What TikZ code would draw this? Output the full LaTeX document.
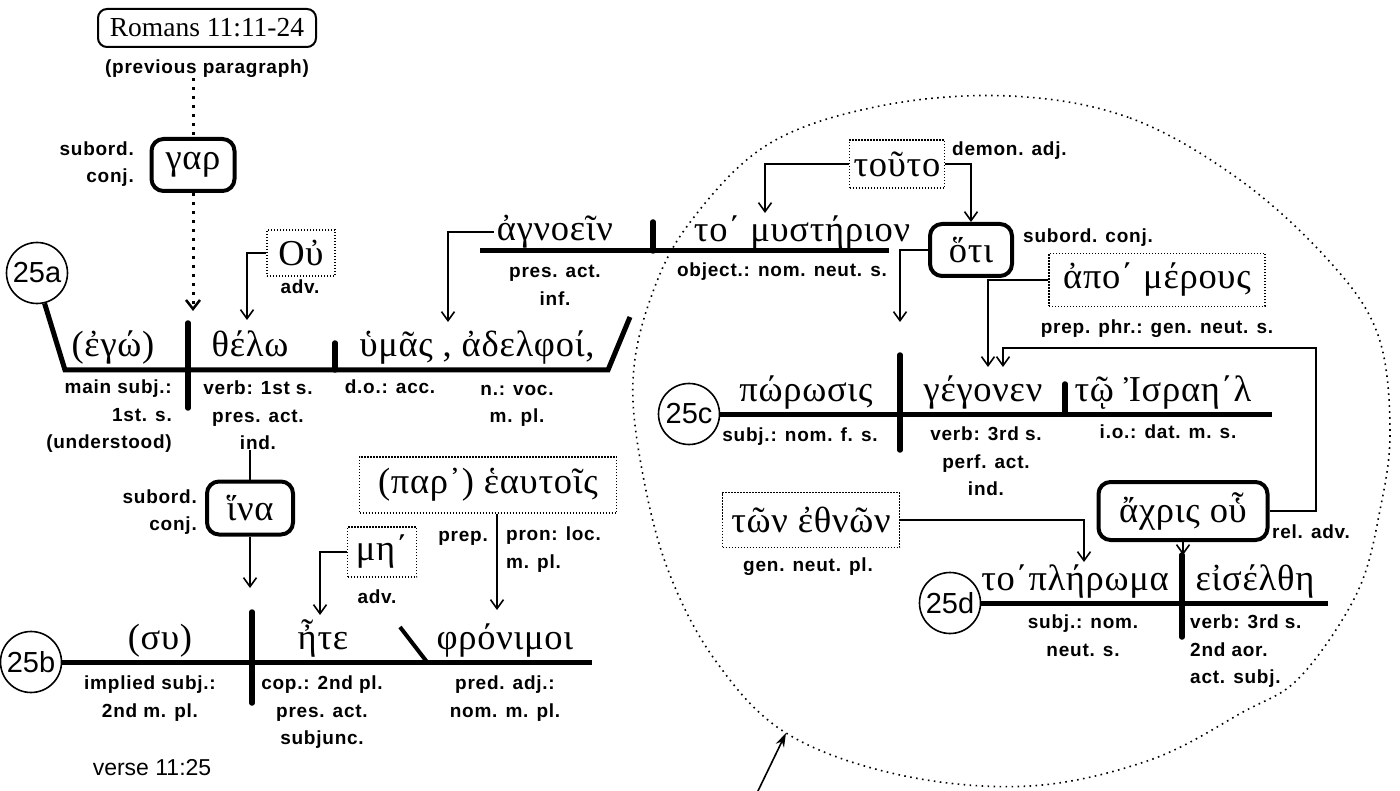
\documentclass[tikz,border=0pt]{standalone}
\usepackage{fontspec}
\setmainfont{Liberation Serif}
\newfontfamily\labf[LetterSpace=4]{Liberation Sans}
\newfontfamily\grkf[LetterSpace=2]{Liberation Serif}
\newfontfamily\numf{Liberation Sans}
\usetikzlibrary{arrows.meta}
\begin{document}
\begin{tikzpicture}[x=1pt,y=-1pt,
  gk/.style={font=\grkf\fontsize{36.5}{40}\selectfont, inner sep=0pt},
  lb/.style={font=\labf\bfseries\fontsize{19}{27.5}\selectfont, inner sep=0pt, align=center, execute at begin node={\rule{0pt}{14pt}}},
  conjbox/.style={draw, line width=4pt, rounded corners=12pt, inner sep=0pt, font=\grkf\fontsize{36.5}{40}\selectfont},
  modbox/.style={draw, line width=1.4pt, dash pattern=on 1.4pt off 1.6pt, inner sep=0pt, font=\grkf\fontsize{36.5}{40}\selectfont},
  num/.style={draw, circle, line width=1.6pt, inner sep=0pt, minimum size=61pt, font=\numf\fontsize{29}{30}\selectfont},
  baseln/.style={line width=5pt},
  divider/.style={line width=5.5pt, line cap=round},
  conn/.style={line width=1.6pt, -{Straight Barb[length=9pt,width=13pt,line width=1.6pt]}},
  plain/.style={line width=1.6pt},
  bigdots/.style={line width=3pt, dash pattern=on 3pt off 6pt},
]
\useasboundingbox (0,0) rectangle (1400,791);
% dotted circle
\draw[line width=1.6pt, dash pattern=on 1.6pt off 4.4pt] plot[smooth cycle, tension=0.6] coordinates {
  (1010,96) (1130,118) (1240,180) (1330,262) (1378,335) (1390,430) (1380,510) (1357,593)
  (1300,677) (1243,712) (1150,760) (1030,786) (900,775) (786,733) (715,660) (668,570)
  (642,470) (633,380) (650,300) (688,225) (767,145) (880,106)};

% top
\node[draw, line width=2pt, rounded corners=9pt, minimum width=218pt, minimum height=38pt, inner sep=0pt, font=\fontsize{27.5}{29}\selectfont] (rom) at (207,28) {Romans 11:11-24};
\node[lb, anchor=base] (prev) at (207,74) {(previous paragraph)};
\node[conjbox, minimum width=83pt, minimum height=52pt] (gar) at (193,165) {γαρ};
\node[lb, align=right, anchor=east] (garlab) at (134,164) {subord.\\conj.};
\coordinate (a1tip) at (190,311);
\draw[bigdots] (gar.north |- prev.south) -- (gar.north);
\draw[bigdots, -{Straight Barb[length=9pt,width=14pt,line width=2.5pt]}] (gar.south) -- (gar.south |- a1tip);

% line 25a
\node[num] (n25a) at (37,273) {25a};
\draw[baseln, line join=miter] (n25a.-76) -- (65,370) -- (608,370) -- (630,317);
\draw[divider] (188,323) -- (188,408);
\draw[divider] (335,343) -- (335,370);
\node[gk, anchor=base] (ego) at (113,357) {(ἐγώ)};
\node[gk, anchor=base] (thelo) at (250,357) {θέλω};
\node[gk, anchor=base] (hymas) at (477,357) {ὑμᾶς , ἀδελφοί,};
\node[lb, align=right, anchor=north east] (subjA) at (172,380) {main subj.:\\1st. s.\\(understood)};
\node[lb, anchor=north] (vlab) at (258,381) {verb: 1st s.\\pres. act.\\ind.};
\node[lb, anchor=north] (doA) at (390,379) {d.o.: acc.};
\node[lb, anchor=north] (voc) at (517,385) {n.: voc.\\m. pl.};

% Ou
\node[modbox, minimum width=68pt, minimum height=46pt] (ou) at (301,253) {Οὐ};
\node[lb, anchor=north] (ouadv) at (300,279) {adv.};
\coordinate (ouT) at (247,320);
\draw[conn] (ou.west) -| (ouT);

% infinitive
\draw[baseln] (480,251) -- (889,251);
\draw[divider] (653,222) -- (653,251);
\node[gk, anchor=base] (agn) at (555,241) {ἀγνοεῖν};
\node[gk, anchor=base] (myst) at (802,242) {το΄ μυστήριον};
\node[lb, anchor=north] (inf) at (555,265) {pres. act.\\inf.};
\node[lb, anchor=north] (objl) at (782,262) {object.: nom. neut. s.};
\coordinate (agT) at (448,322);
\draw[conn] ([xshift=-3pt]agn.west) -| (agT);

% touto / hoti
\node[modbox, minimum width=95pt, minimum height=48pt] (touto) at (897,164) {τοῦτο};
\node[lb, anchor=west] (dem) at (952,150) {demon. adj.};
\node[conjbox, minimum width=82pt, minimum height=52pt] (hoti) at (971,250) {ὅτι};
\node[lb, anchor=west] (subc) at (1023,237) {subord. conj.};
\coordinate (tmT) at (765,213);
\draw[conn] (touto.west) -| (tmT);
\draw[conn] (touto.east) -| (hoti.north);
\coordinate (hT) at (900,322);
\draw[conn] (hoti.west) -| (hT);

% apo merous
\node[modbox, minimum width=216pt, minimum height=53pt] (apo) at (1157,280) {ἀπο΄ μέρους};
\node[lb, anchor=north] (ppl) at (1157,319) {prep. phr.: gen. neut. s.};
\coordinate (amT) at (988,367);
\draw[conn] (apo.west) -| (amT);

% line 25c
\node[num] (n25c) at (689,414) {25c};
\draw[baseln] (n25c.east) -- (1272,414);
\draw[divider] (900,355) -- (900,450);
\draw[divider] (1065,384) -- (1065,414);
\node[gk, anchor=base] (poro) at (806,401) {πώρωσις};
\node[gk, anchor=base] (gego) at (983,401) {γέγονεν};
\node[gk, anchor=base] (isr) at (1163,401) {τῷ Ἰσραη΄λ};
\node[lb, anchor=north] (scl) at (800,427) {subj.: nom. f. s.};
\node[lb, anchor=north] (vcl) at (986,427) {verb: 3rd s.\\perf. act.\\ind.};
\node[lb, anchor=north] (iol) at (1168,424) {i.o.: dat. m. s.};

% ton ethnon / achris
\node[modbox, minimum width=177pt, minimum height=55pt] (ton) at (811,520) {τῶν ἐθνῶν};
\node[lb, anchor=north] (gnl) at (808,557) {gen. neut. pl.};
\node[conjbox, minimum width=169pt, minimum height=58pt] (achris) at (1183,511) {ἄχρις οὗ};
\node[lb, anchor=west] (rel) at (1272,532) {rel. adv.};
\coordinate (ac1) at (1316,348);
\coordinate (acT) at (1003,367);
\draw[conn] (achris.east) -| (ac1) -| (acT);
\coordinate (teT) at (1084,562);
\draw[conn] (ton.east) -| (teT);
\coordinate (axT) at (1182,555);
\draw[conn] (achris.south) -- (achris.south |- axT);

% line 25d
\node[num] (n25d) at (950,603) {25d};
\draw[baseln] (n25d.east) -- (1328,603);
\draw[divider] (1182,555) -- (1182,637);
\node[gk, anchor=base] (pler) at (1075,590) {το΄πλήρωμα};
\node[gk, anchor=base] (eis) at (1255,590) {εἰσέλθη};
\node[lb, anchor=north] (sdl) at (1083,615) {subj.: nom.\\neut. s.};
\node[lb, align=left, anchor=north west] (vdl) at (1190,615) {verb: 3rd s.\\2nd aor.\\act. subj.};

% hina
\node[conjbox, minimum width=86pt, minimum height=53pt] (ina) at (250,508) {ἵνα};
\node[lb, align=right, anchor=east] (inal) at (197,512) {subord.\\conj.};
\draw[plain] (ina.north |- vlab.south) -- (ina.north);
\coordinate (inT) at (250,588);
\draw[conn] (ina.south) -- (ina.south |- inT);

% par' heautois / me
\node[modbox, minimum width=257pt, minimum height=56pt] (par) at (488,485) {(παρ᾽) ἑαυτοῖς};
\node[lb, align=right, anchor=north east] (prepl) at (488,527) {prep.};
\node[lb, align=left, anchor=north west] (pronl) at (506,527) {pron: loc.\\m. pl.};
\coordinate (peT) at (497,610);
\draw[conn] (par.south -| peT) -- (peT);
\node[modbox, minimum width=69pt, minimum height=50pt] (mh) at (382,552) {μη΄};
\node[lb, anchor=north] (mhl) at (377,589) {adv.};
\coordinate (mhT) at (320,615);
\draw[conn] (mh.west) -| (mhT);

% line 25b
\node[num] (n25b) at (31,662) {25b};
\draw[baseln] (n25b.east) -- (592,662);
\draw[divider] (252,612) -- (252,703);
\draw[line width=4pt] (400,627) -- (427,662);
\node[gk, anchor=base] (sy) at (160,649) {(συ)};
\node[gk, anchor=base] (ete) at (323,649) {ἦτε};
\node[gk, anchor=base] (fron) at (505,649) {φρόνιμοι};
\node[lb, anchor=north] (l25b1) at (150,676) {implied subj.:\\2nd m. pl.};
\node[lb, anchor=north] (l25b2) at (322,676) {cop.: 2nd pl.\\pres. act.\\subjunc.};
\node[lb, anchor=north] (l25b3) at (505,676) {pred. adj.:\\nom. m. pl.};

\node[font=\numf\fontsize{23}{24}\selectfont, anchor=base, inner sep=0pt] (verse) at (152,775) {verse 11:25};
\coordinate (bs) at (757,793);
\coordinate (be) at (786,733);
\draw[line width=1.6pt, -{Stealth[length=14pt,width=9pt]}] (bs) -- (be);
\end{tikzpicture}
\end{document}
